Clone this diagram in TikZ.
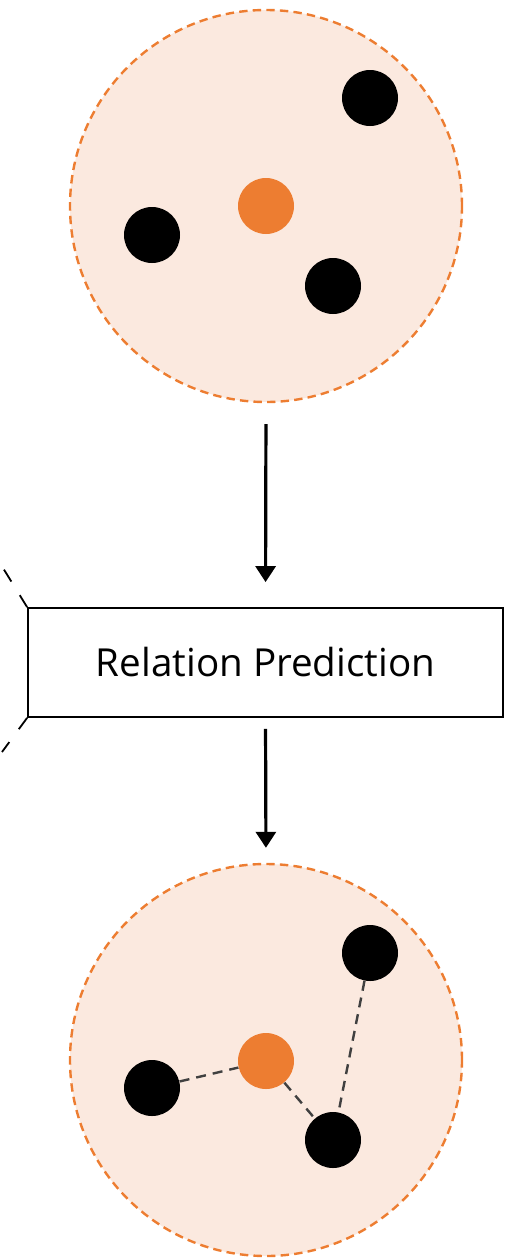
\documentclass[tikz,border=0pt]{standalone}
\usepackage{fontspec}
\setmainfont{Open Sans}
\usepackage{xcolor}
\usetikzlibrary{positioning,arrows.meta}

\definecolor{accent}{HTML}{ED7D31}
\definecolor{accentbg}{HTML}{FBE9DF}
\definecolor{edgegray}{HTML}{404040}

\begin{document}
\begin{tikzpicture}[
  x=0.5pt, y=-0.5pt,
  group/.style={circle, draw=accent, fill=accentbg, line width=1.2pt,
    dash pattern=on 4.2pt off 2.6pt, minimum size=196pt, inner sep=0pt},
  ent/.style={circle, fill=black, minimum size=28pt, inner sep=0pt},
  ctr/.style={ent, fill=accent},
  stage/.style={rectangle, draw, line width=0.9pt, inner sep=0pt,
    minimum width=237.5pt, minimum height=54.5pt,
    font=\fontsize{19.3}{23}\selectfont},
  flow/.style={-{Triangle[width=10pt,length=8pt]}, line width=1.6pt},
  rel/.style={draw=edgegray, line width=1.2pt, dash pattern=on 5pt off 3.5pt}
]
\useasboundingbox (0,0) rectangle (513,1258);

% ── Input set ──
\node[group] (g1) at (266,206) {};
\node[ctr] (c1) at (266,206) {};
\node[ent] (a1) at (370,98) {};
\node[ent] (b1) at (152,235) {};
\node[ent] (d1) at (333,286) {};

% ── Prediction stage ──
\node[stage] (rp) at (265.5,662.5) {Relation Prediction};
\coordinate (cutt) at (3,568);
\coordinate (cutb) at (2,752);
\draw[line width=0.9pt, dash pattern=on 7pt off 8pt] (rp.north west) -- (cutt);
\draw[line width=0.9pt, dash pattern=on 7pt off 8pt] (rp.south west) -- (cutb);

% ── Output set ──
\node[group] (g2) at (266,1060) {};
\node[ctr] (c2) at (266,1061) {};
\node[ent] (a2) at (370,953) {};
\node[ent] (b2) at (152,1088) {};
\node[ent] (d2) at (333,1140) {};

% ── Predicted relations ──
\draw[rel] (b2) -- (c2);
\draw[rel] (c2) -- (d2);
\draw[rel] (a2) -- (d2);

% ── Main flow ──
\draw[flow, shorten <=10.5pt, shorten >=12.5pt] (g1.south) -- (rp.north);
\draw[flow, shorten <=5.5pt, shorten >=7.5pt] (rp.south) -- (g2.north);

\end{tikzpicture}
\end{document}
